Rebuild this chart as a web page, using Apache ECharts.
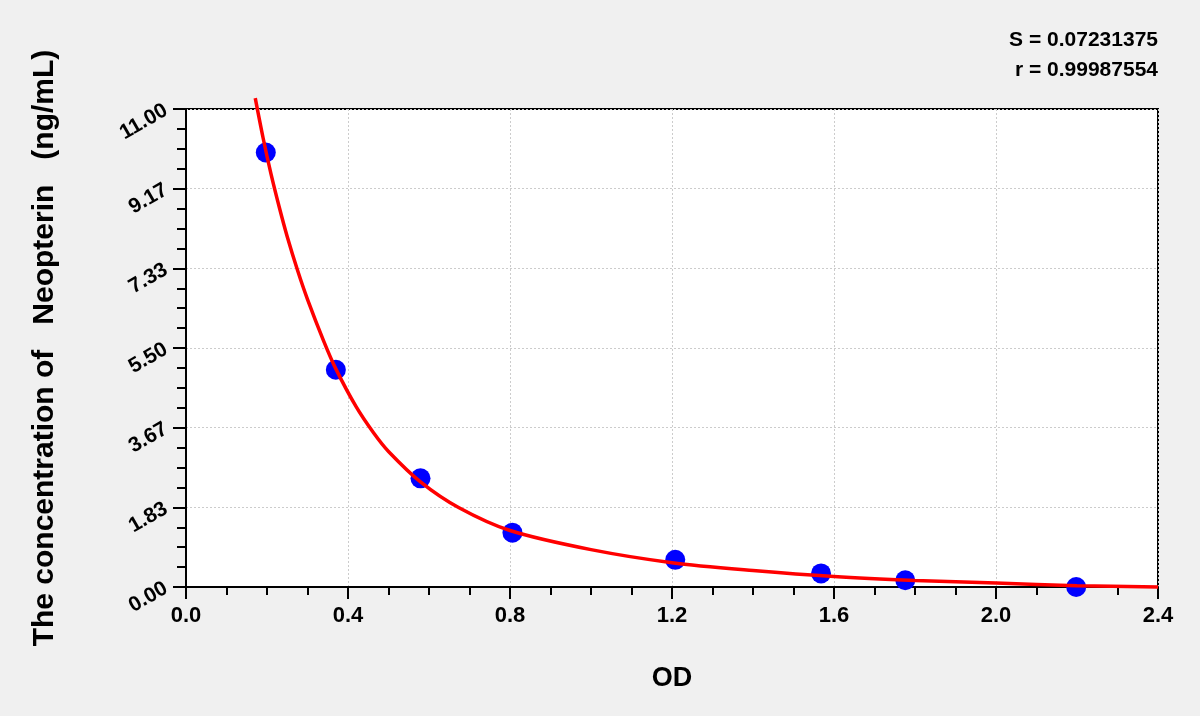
<!DOCTYPE html>
<html>
<head>
<meta charset="utf-8">
<script src="https://cdn.jsdelivr.net/npm/echarts@6/dist/echarts.min.js"></script>
<style>
html,body{margin:0;padding:0;background:#f0f0f0;}
#chart{width:1200px;height:716px;}
</style>
</head>
<body>
<div id="chart"></div>
<script>
// Standard points (OD, concentration)
const pointOD = [0.197, 0.370, 0.579, 0.806, 1.208, 1.568, 1.776, 2.198];
const pointConc = [10.0, 5.0, 2.5, 1.25, 0.625, 0.312, 0.156, 0.0];

// Fitted curve
const curveOD = [0.171, 0.190, 0.210, 0.230, 0.250, 0.275, 0.300, 0.340, 0.370, 0.420, 0.463, 0.500, 0.579, 0.673, 0.800, 1.000, 1.200, 1.400, 1.600, 1.800, 2.000, 2.200, 2.400];
const curveConc = [11.25, 10.35, 9.50, 8.75, 8.06, 7.30, 6.62, 5.66, 5.02, 4.15, 3.55, 3.12, 2.42, 1.83, 1.30, 0.86, 0.56, 0.38, 0.24, 0.15, 0.09, 0.03, 0.0];

const yTicks = ['0.00', '1.83', '3.67', '5.50', '7.33', '9.17', '11.00'];
const xTicks = ['0.0', '0.4', '0.8', '1.2', '1.6', '2.0', '2.4'];
const statLines = ['S = 0.07231375', 'r = 0.99987554'];

const FONT = '"Liberation Sans", Arial, sans-serif';
const chart = echarts.init(document.getElementById('chart'));
const yStep = 11 / 6;

chart.setOption({
  backgroundColor: '#f0f0f0',
  animation: false,
  grid: {
    left: 186, right: 42, top: 109, bottom: 129,
    show: true, backgroundColor: '#ffffff', borderColor: '#000', borderWidth: 2
  },
  graphic: [
    { type: 'text', x: 1158, y: 40, style: { text: statLines[0], font: 'bold 21px ' + FONT, fill: '#000', textAlign: 'right', textVerticalAlign: 'middle' } },
    { type: 'text', x: 1158, y: 70, style: { text: statLines[1], font: 'bold 21px ' + FONT, fill: '#000', textAlign: 'right', textVerticalAlign: 'middle' } }
  ],
  xAxis: {
    type: 'value', min: 0, max: 2.4, interval: 0.4,
    name: 'OD', nameLocation: 'middle', nameGap: 78,
    nameTextStyle: { fontFamily: FONT, fontWeight: 'bold', fontSize: 27, color: '#000' },
    axisLine: { show: true, onZero: false, lineStyle: { color: '#000', width: 2 } },
    axisTick: { show: true, length: 12, lineStyle: { color: '#000', width: 2 } },
    minorTick: { show: true, splitNumber: 4, length: 8, lineStyle: { color: '#000', width: 2 } },
    axisLabel: {
      margin: 18, fontFamily: FONT, fontWeight: 'bold', fontSize: 22, color: '#000',
      formatter: v => xTicks[Math.round(v / 0.4)] || ''
    },
    splitLine: { show: true, lineStyle: { color: '#cccccc', type: [2, 2], width: 1 } }
  },
  yAxis: {
    type: 'value', min: 0, max: 11, interval: yStep,
    name: 'The concentration of   Neopterin   (ng/mL)', nameLocation: 'middle', nameGap: 126,
    nameTextStyle: { fontFamily: FONT, fontWeight: 'bold', fontSize: 30, color: '#000' },
    axisLine: { show: true, onZero: false, lineStyle: { color: '#000', width: 2 } },
    axisTick: { show: true, length: 13, lineStyle: { color: '#000', width: 2 } },
    minorTick: { show: true, splitNumber: 4, length: 9, lineStyle: { color: '#000', width: 2 } },
    axisLabel: {
      margin: 20, rotate: 30, fontFamily: FONT, fontWeight: 'bold', fontSize: 21, color: '#000',
      formatter: v => yTicks[Math.round(v / yStep)] || ''
    },
    splitLine: { show: true, lineStyle: { color: '#cccccc', type: [2, 2], width: 1 } }
  },
  series: [
    {
      type: 'line', data: curveOD.map((x, i) => [x, curveConc[i]]),
      smooth: 0.3, showSymbol: false, clip: false,
      lineStyle: { color: '#ff0000', width: 3.5 }, z: 3
    },
    {
      type: 'scatter', data: pointOD.map((x, i) => [x, pointConc[i]]),
      symbol: 'circle', symbolSize: 20, clip: false,
      itemStyle: { color: '#0000ff', opacity: 1 }, z: 2
    }
  ]
});
</script>
</body>
</html>
